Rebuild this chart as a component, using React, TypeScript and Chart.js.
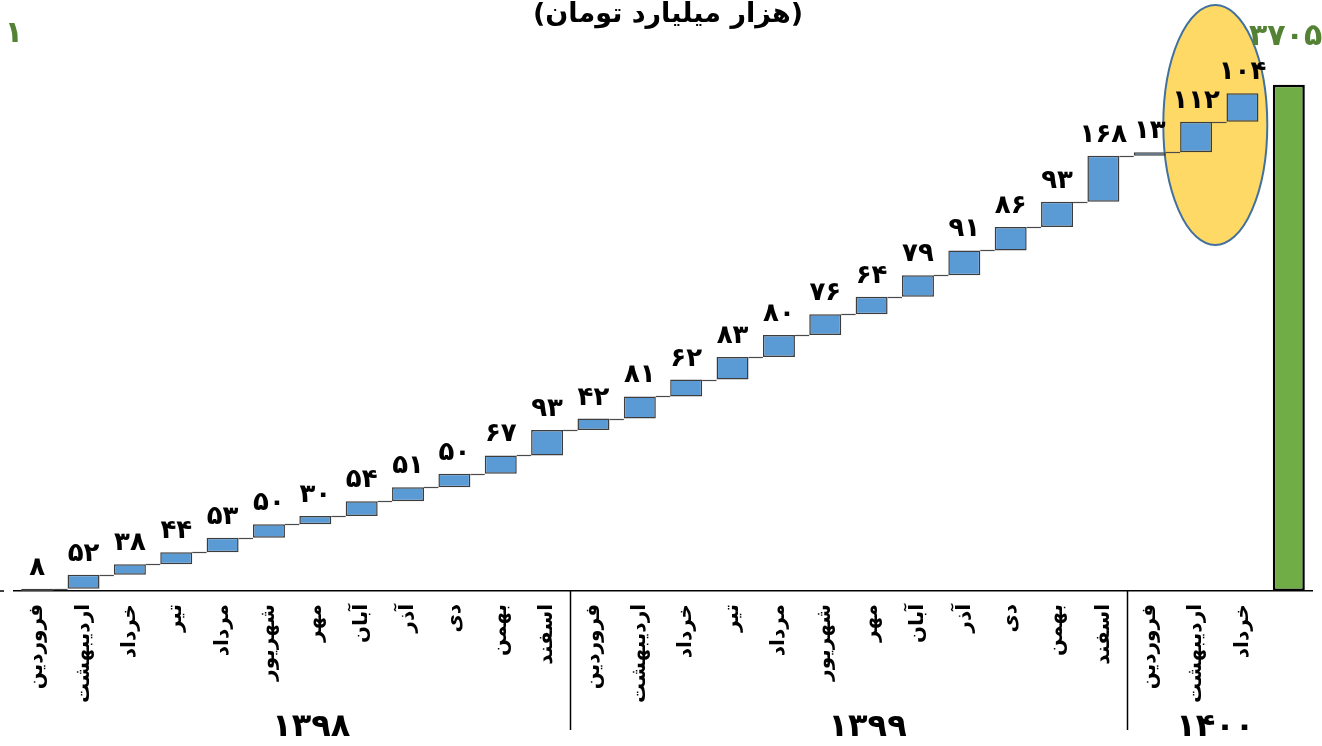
import React, { useEffect, useRef } from "react";
import { Chart, registerables } from "chart.js";

Chart.register(...registerables);

// ---- data ----
const MONTHS = ["فروردین", "اردیبهشت", "خرداد", "تیر", "مرداد", "شهریور", "مهر", "آبان", "آذر", "دی", "بهمن", "اسفند"];
const YEARS = ["۱۳۹۸", "۱۳۹۹", "۱۴۰۰"];
const CHANGES_1398 = [8, 52, 38, 44, 53, 50, 30, 54, 51, 50, 67, 93];
const CHANGES_1399 = [42, 81, 62, 83, 80, 76, 64, 79, 91, 86, 93, 168];
const CHANGES_1400 = [13, 112, 104];
const START_VALUE = 1850;
const TOTAL_VALUE = 3705;
const TOTAL_LABEL = "۳۷۰۵";
const TOTAL_LABEL_WRAP = "۱";
const TITLE = "(هزار میلیارد تومان)";
const Y_MIN = 1850;
const Y_MAX = 4016;

const FA_DIGITS = "۰۱۲۳۴۵۶۷۸۹";
const toFa = (n: number) => String(n).replace(/\d/g, (d) => FA_DIGITS[+d]);

const GROUPS = [CHANGES_1398, CHANGES_1399, CHANGES_1400];
const CHANGES = [...CHANGES_1398, ...CHANGES_1399, ...CHANGES_1400];
const LABELS = [...MONTHS, ...MONTHS, ...MONTHS.slice(0, CHANGES_1400.length), ""];

const FONT = "'DejaVu Sans', sans-serif";
const BLUE = "#5B9BD5";
const GREEN = "#70AD47";

export default function App() {
  const ref = useRef<HTMLCanvasElement | null>(null);

  useEffect(() => {
    document.body.style.margin = "0";
    const canvas = ref.current;
    if (!canvas) return;

    const floating: [number, number][] = [];
    const cums: number[] = [];
    let cum = START_VALUE;
    for (const c of CHANGES) {
      floating.push([cum, cum + c]);
      cum += c;
      cums.push(cum);
    }
    floating.push([Y_MIN, TOTAL_VALUE]);
    const n = CHANGES.length;

    const bg = floating.map((_, i) => (i < n ? BLUE : GREEN));
    const bc = floating.map((_, i) => (i < n ? "#3d3d3d" : "#000000"));
    const bw = floating.map((_, i) => (i < n ? 1.5 : 2.5));

    const decor = {
      id: "decor",
      beforeDatasetsDraw(chart: any) {
        const ctx = chart.ctx;
        const meta = chart.getDatasetMeta(0);
        const a = meta.data[n - 2];
        const b = meta.data[n - 1];
        const cx = (a.x + b.x) / 2 - 4;
        ctx.save();
        ctx.beginPath();
        ctx.ellipse(cx, 125, 52, 120, 0, 0, Math.PI * 2);
        ctx.fillStyle = "#FFD966";
        ctx.fill();
        ctx.lineWidth = 2;
        ctx.strokeStyle = "#41719C";
        ctx.stroke();
        ctx.restore();
      },
      afterDatasetsDraw(chart: any) {
        const ctx = chart.ctx;
        const meta = chart.getDatasetMeta(0);
        const ys = chart.scales.y;
        ctx.save();
        // connectors
        ctx.strokeStyle = "#4a4a4a";
        ctx.lineWidth = 1.2;
        for (let i = 0; i < n - 1; i++) {
          const b0 = meta.data[i];
          const b1 = meta.data[i + 1];
          const y = Math.round(ys.getPixelForValue(cums[i])) + 0.5;
          ctx.beginPath();
          ctx.moveTo(b0.x + b0.width / 2, y);
          ctx.lineTo(b1.x - b1.width / 2, y);
          ctx.stroke();
        }
        // value labels
        ctx.fillStyle = "#000";
        ctx.font = `bold 26px ${FONT}`;
        ctx.textAlign = "center";
        ctx.textBaseline = "alphabetic";
        for (let i = 0; i < n; i++) {
          const bar = meta.data[i];
          const top = ys.getPixelForValue(cums[i]);
          ctx.fillText(toFa(CHANGES[i]), bar.x, top - 14);
        }
        ctx.restore();
      },
      afterDraw(chart: any) {
        const ctx = chart.ctx;
        const xs = chart.scales.x;
        const area = chart.chartArea;
        ctx.save();
        // title
        ctx.fillStyle = "#000";
        ctx.font = `bold 27px ${FONT}`;
        ctx.textAlign = "center";
        ctx.textBaseline = "alphabetic";
        ctx.direction = "rtl";
        ctx.fillText(TITLE, 668, 22);
        ctx.direction = "ltr";
        // total label
        ctx.fillStyle = "#548235";
        ctx.font = `bold 30px ${FONT}`;
        ctx.textAlign = "left";
        ctx.fillText(TOTAL_LABEL, 1249, 45);
        ctx.textAlign = "center";
        ctx.fillText(TOTAL_LABEL_WRAP, 14, 42);
        // small left tick
        ctx.strokeStyle = "#000";
        ctx.lineWidth = 1.5;
        ctx.beginPath();
        ctx.moveTo(0, area.bottom);
        ctx.lineTo(4, area.bottom);
        ctx.stroke();
        // year groups
        const slot = xs.getPixelForValue(1) - xs.getPixelForValue(0);
        let idx = 0;
        ctx.fillStyle = "#000";
        ctx.font = `bold 32px ${FONT}`;
        GROUPS.forEach((g, gi) => {
          const first = xs.getPixelForValue(idx);
          const last = xs.getPixelForValue(idx + g.length - 1);
          ctx.fillText(YEARS[gi], (first + last) / 2 + slot / 2 - 4, 736);
          idx += g.length;
          if (gi < GROUPS.length - 1) {
            const sx = Math.round((xs.getPixelForValue(idx - 1) + xs.getPixelForValue(idx)) / 2) + 0.5;
            ctx.lineWidth = 1.5;
            ctx.beginPath();
            ctx.moveTo(sx, area.bottom);
            ctx.lineTo(sx, 730);
            ctx.stroke();
          }
        });
        ctx.restore();
      },
    };

    const chart = new Chart(canvas, {
      type: "bar",
      data: {
        labels: LABELS,
        datasets: [
          {
            data: floating as any,
            backgroundColor: bg,
            borderColor: bc,
            borderWidth: bw,
            borderSkipped: false,
            barPercentage: 0.69,
            categoryPercentage: 1,
          },
        ],
      },
      options: {
        responsive: false,
        animation: false,
        devicePixelRatio: 1,
        layout: { padding: { left: 14, right: 10, top: 0, bottom: 0 } },
        plugins: {
          legend: { display: false },
          tooltip: { enabled: false },
          title: { display: false },
        },
        scales: {
          x: {
            grid: { display: false, drawTicks: false },
            border: { display: true, color: "#000", width: 1.5 },
            ticks: {
              autoSkip: false,
              minRotation: 90,
              maxRotation: 90,
              padding: 13,
              color: "#000",
              font: { family: FONT, size: 20, weight: "bold" },
            },
            afterFit: (s: any) => {
              s.height = 155;
              s.paddingLeft = 0;
              s.paddingRight = 0;
            },
          },
          y: { display: false, min: Y_MIN, max: Y_MAX },
        },
      },
      plugins: [decor],
    });

    return () => chart.destroy();
  }, []);

  return (
    <div style={{ width: 1322, height: 746, background: "#fff" }}>
      <canvas ref={ref} width={1322} height={746} style={{ width: 1322, height: 746, display: "block" }} />
    </div>
  );
}
